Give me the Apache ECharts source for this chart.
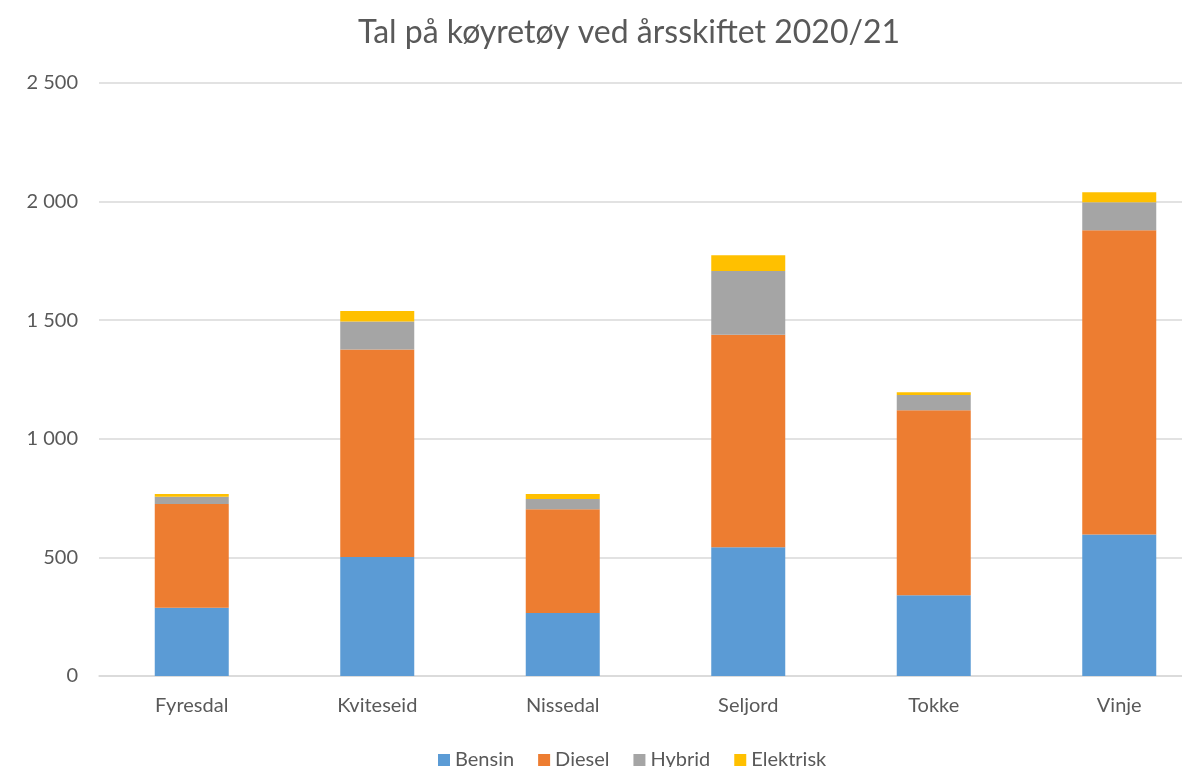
<!DOCTYPE html>
<html>
<head>
<meta charset="utf-8">
<script src="https://cdn.jsdelivr.net/npm/echarts@6/dist/echarts.min.js"></script>
<style>
  html, body { margin: 0; padding: 0; background: #fff; }
  #chart { width: 1182px; height: 767px; }
</style>
</head>
<body>
<div id="chart"></div>
<script>
// kommunar
const categories = ["Fyresdal", "Kviteseid", "Nissedal", "Seljord", "Tokke", "Vinje"];
// tal på køyretøy per drivstoff
const bensin = [288, 502, 266, 543, 340, 597];
const diesel = [437, 875, 437, 896, 780, 1282];
const hybrid = [31, 117, 43, 268, 65, 118];
const elektrisk = [11, 45, 21, 67, 11, 42];
const yTicks = [0, 500, 1000, 1500, 2000, 2500];

const colors = ["#5B9BD5", "#ED7D31", "#A5A5A5", "#FFC000"];
const textColor = "#595959";
const font = "Lato, 'Open Sans', sans-serif";

const chart = echarts.init(document.getElementById("chart"));

const mkSeries = (name, data, color) => ({
  type: "bar",
  name: name,
  stack: "total",
  barWidth: 74,
  itemStyle: { color: color },
  data: data,
});

const option = {
  animation: false,
  textStyle: { fontFamily: font },
  title: {
    text: "Tal på køyretøy ved årsskiftet 2020/21",
    left: 624,
    top: 12,
    textAlign: "center",
    textStyle: {
      color: textColor,
      fontSize: 32,
      fontWeight: "normal",
      fontFamily: font,
    },
  },
  legend: {
    top: 745,
    left: 433,
    itemWidth: 12,
    itemHeight: 12,
    itemGap: 24,
    icon: "rect",
    textStyle: { color: textColor, fontSize: 20, fontFamily: font },
    data: ["Bensin", "Diesel", "Hybrid", "Elektrisk"],
  },
  grid: {
    left: 99,
    top: 83,
    width: 1113,
    height: 593,
    outerBoundsMode: "none",
  },
  xAxis: {
    type: "category",
    data: categories,
    axisTick: { show: false },
    axisLine: { lineStyle: { color: "#d9d9d9", width: 1.5 } },
    axisLabel: {
      color: textColor,
      fontSize: 20,
      margin: 20,
      fontFamily: font,
    },
  },
  yAxis: {
    type: "value",
    min: yTicks[0],
    max: yTicks[yTicks.length - 1],
    interval: 500,
    axisLine: { show: false },
    axisTick: { show: false },
    splitLine: { lineStyle: { color: "#d9d9d9", width: 1.5 } },
    axisLabel: {
      color: textColor,
      fontSize: 20,
      margin: 21,
      fontFamily: font,
      formatter: (v) => String(v).replace(/\B(?=(\d{3})+(?!\d))/g, " "),
    },
  },
  series: [
    mkSeries("Bensin", bensin, colors[0]),
    mkSeries("Diesel", diesel, colors[1]),
    mkSeries("Hybrid", hybrid, colors[2]),
    mkSeries("Elektrisk", elektrisk, colors[3]),
  ],
};

chart.setOption(option);
</script>
</body>
</html>
